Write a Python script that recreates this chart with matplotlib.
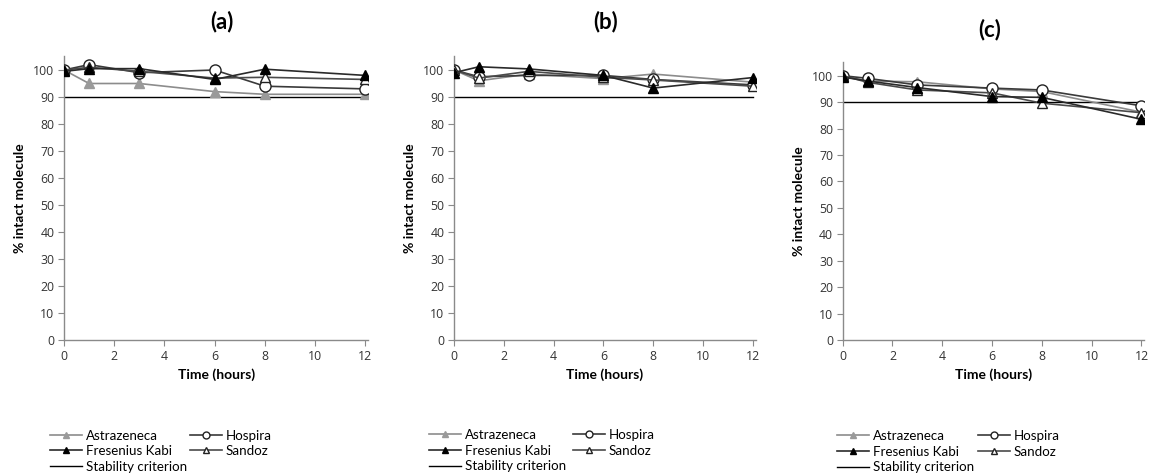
import matplotlib
matplotlib.use("Agg")
import matplotlib.pyplot as plt
from matplotlib.lines import Line2D

time_h = [0, 1, 3, 6, 8, 12]
series_names = ["Astrazeneca", "Hospira", "Fresenius Kabi", "Sandoz"]

# panel (a)
a_astrazeneca = [100, 95, 95, 92, 91, 91]
a_hospira = [100, 102, 99, 100, 94, 93]
a_fresenius = [99.5, 100.5, 100.5, 96.5, 100.3, 98]
a_sandoz = [100, 101, 99.5, 97, 97.3, 96.5]
# panel (b)
b_astrazeneca = [100, 96, 98.5, 96.8, 98.5, 95.5]
b_hospira = [100, 97.5, 98, 98, 96.5, 94.5]
b_fresenius = [99, 101.2, 100.4, 98, 93.3, 97.2]
b_sandoz = [100, 97, 99.5, 97.3, 96.3, 94]
# panel (c)
c_astrazeneca = [100, 98, 97.7, 95, 94, 86.2]
c_hospira = [100, 99, 96.5, 95.3, 94.6, 88.6]
c_fresenius = [99.5, 98, 95.5, 92.1, 91.8, 83.5]
c_sandoz = [100, 97.5, 94.6, 93.5, 89.6, 86]

stability_criterion = 90
panel_titles = ["(a)", "(b)", "(c)"]
x_ticks = [0, 2, 4, 6, 8, 10, 12]
y_ticks = [0, 10, 20, 30, 40, 50, 60, 70, 80, 90, 100]

panels = [
    (a_astrazeneca, a_hospira, a_fresenius, a_sandoz),
    (b_astrazeneca, b_hospira, b_fresenius, b_sandoz),
    (c_astrazeneca, c_hospira, c_fresenius, c_sandoz),
]

W, H = 1149, 473
fig = plt.figure(figsize=(W / 100, H / 100), dpi=100)

# axes placement in pixels: left, y0 (pixel row of y=0), px per x unit, px per y unit
layout = [
    (64, 340, 25.1, 2.70),
    (454, 340, 24.9, 2.70),
    (842.7, 340, 24.9, 2.643),
]
title_pos = [(222, 22), (606, 22), (990, 30)]
# (col1 x, col2 x, top y)
legend_pos = [(50, 190, 429.5), (429, 573, 429), (837, 978, 430)]

XMAX, YMAX = 12.12, 105
sty = dict(
    astra=dict(color="#8c8c8c", marker="^", mfc="#9a9a9a", mec="#9a9a9a"),
    hosp=dict(color="#3a3a3a", marker="o", mfc="white", mec="#222222"),
    fres=dict(color="#2a2a2a", marker="^", mfc="black", mec="black"),
    sand=dict(color="#4a4a4a", marker="^", mfc="white", mec="#222222"),
)

tick_font = dict(family="Open Sans", size=8.8)
lab_font = dict(family="Lato", size=10, weight="bold")

for i, (vals, (lx, y0, pxx, pxy), tp, lp) in enumerate(zip(panels, layout, title_pos, legend_pos)):
    w = XMAX * pxx
    h = YMAX * pxy
    ax = fig.add_axes([lx / W, (H - y0) / H, w / W, h / H])
    astra, hosp, fres, sand = vals
    ax.axhline(stability_criterion, color="black", lw=1.0, zorder=1, xmin=0, xmax=12 / XMAX)
    ax.plot(time_h, astra, lw=1.2, ms=7.5, mew=1.0, zorder=3, **sty["astra"])
    ax.plot(time_h, hosp, lw=1.2, ms=8, mew=1.0, zorder=4, **sty["hosp"])
    ax.plot(time_h, sand, lw=1.2, ms=7.5, mew=1.0, zorder=4, **sty["sand"])
    ax.plot(time_h, fres, lw=1.2, ms=7.5, mew=1.0, zorder=5, **sty["fres"])
    ax.set_xlim(0, XMAX)
    ax.set_ylim(0, YMAX)
    ax.set_xticks(x_ticks)
    ax.set_yticks(y_ticks)
    ax.set_xticklabels([str(t) for t in x_ticks], **tick_font)
    ax.set_yticklabels([str(t) for t in y_ticks], **tick_font)
    for s in ["top", "right"]:
        ax.spines[s].set_visible(False)
    for s in ["left", "bottom"]:
        ax.spines[s].set_color("#8a8a8a")
        ax.spines[s].set_linewidth(1.0)
    ax.tick_params(axis="both", direction="out", length=4, width=0.8, color="#8a8a8a",
                   labelcolor="#333333", pad=3)
    ax.set_xlabel("Time (hours)", labelpad=4, **lab_font)
    ax.set_ylabel("% intact molecule", labelpad=5, **lab_font)
    fig.text(tp[0] / W, 1 - tp[1] / H, panel_titles[i], ha="center", va="center",
             family="Lato", weight="bold", size=16)

    crit = Line2D([], [], color="black", lw=1.0)
    col1 = [Line2D([], [], lw=1.2, ms=5, **sty["astra"]),
            Line2D([], [], lw=1.2, ms=5, **sty["fres"]),
            crit]
    col2 = [Line2D([], [], lw=1.2, ms=5, **sty["hosp"]),
            Line2D([], [], lw=1.2, ms=5, **sty["sand"])]
    kw = dict(loc="upper left", frameon=False, borderpad=0, borderaxespad=0,
              handlelength=2.4, handletextpad=0.3, labelspacing=0.27,
              prop=dict(family="Lato", size=9.6))
    fig.legend(col1, ["Astrazeneca", "Fresenius Kabi", "Stability criterion"],
               bbox_to_anchor=(lp[0] / W, 1 - lp[2] / H), **kw)
    fig.legend(col2, ["Hospira", "Sandoz"],
               bbox_to_anchor=(lp[1] / W, 1 - lp[2] / H), **kw)

fig.savefig("out.png", dpi=100, facecolor="white")
